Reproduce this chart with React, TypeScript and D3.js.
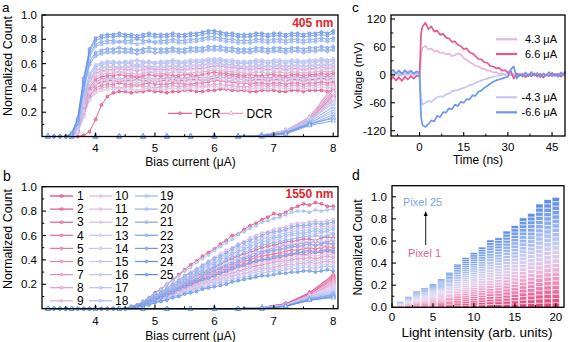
import React from "react";
import * as d3 from "d3";

const FONT = "'Liberation Sans', Arial, Helvetica, sans-serif";

// ---------- panel a / b : bias grid ----------
const biasGrid = [3.2,3.3,3.4,3.5,3.6,3.7,3.8,3.9,4.0,4.1,4.2,4.3,4.4,4.5,4.6,4.7,4.8,4.9,5.0,5.1,5.2,5.3,5.4,5.5,5.6,5.7,5.8,5.9,6.0,6.1,6.2,6.3,6.4,6.5,6.6,6.7,6.8,6.9,7.0,7.1,7.2,7.3,7.4,7.5,7.6,7.7,7.8,7.9,8.0];
const dcrBias = [3.2,3.6,4.0,4.4,4.8,5.2,5.6,6.0,6.4,6.8,7.2,7.6,8.0];
const biasTicks = [4,5,6,7,8];
const biasMinor = [3.5,4.5,5.5,6.5,7.5];
const countTicksPct = [20,40,60,80,100];
const countMinorPct = [10,30,50,70,90];
const pixelNames = ["1","2","3","4","5","6","7","8","9","10","11","12","13","14","15","16","17","18","19","20","21","22","23","24","25"];

// normalized count x100, 405 nm, PCR, pixels 1..25
const pcr405 = [
[0,0,0,0,0,0,1,4,14,26,33,36,37,37,36,37,37,38,37,37,36,37,37,38,38,37,37,38,38,39,39,38,38,38,37,37,38,38,38,37,37,38,38,37,38,38,38,37,38],
[0,0,0,0,0,4,20,36,43,45,46,46,45,46,46,47,46,46,45,46,46,47,46,46,47,47,46,47,48,49,48,48,47,47,46,47,47,46,47,47,46,47,47,46,47,47,48,47,48],
[0,0,0,0,0,5,24,40,47,49,50,50,51,50,50,49,50,51,50,50,51,50,50,51,51,50,51,52,53,52,52,51,51,50,51,50,50,51,51,50,50,51,51,50,51,51,52,51,52],
[0,0,0,0,0,4,18,33,40,42,43,43,44,43,43,42,43,44,43,43,43,44,44,43,43,44,44,45,46,46,45,45,44,44,43,44,44,43,44,44,43,44,44,43,44,44,45,44,45],
[0,0,0,0,0,4,21,38,45,47,48,48,47,48,48,49,48,48,47,48,48,49,48,48,49,49,48,49,50,51,50,50,49,49,48,49,49,48,49,49,48,49,49,48,49,50,50,49,50],
[0,0,0,0,1,6,27,45,52,54,55,55,56,55,55,54,55,56,55,55,55,56,55,55,56,56,56,57,58,58,57,57,56,56,55,56,56,55,56,56,55,56,56,55,56,56,57,56,57],
[0,0,0,0,0,3,17,31,38,40,41,41,40,41,41,42,41,41,40,41,41,42,41,41,42,42,41,42,43,43,42,42,41,41,41,42,42,41,42,42,41,42,42,41,42,42,43,42,43],
[0,0,0,0,0,5,25,42,49,51,52,52,53,52,52,51,52,53,52,52,52,53,53,52,52,53,53,54,55,54,54,53,53,52,52,53,53,52,53,53,52,53,53,52,53,53,54,53,54],
[0,0,0,0,1,6,28,46,54,56,57,57,56,57,57,58,57,57,56,57,57,58,57,57,58,58,59,60,61,60,59,59,58,57,57,58,58,57,58,58,57,58,58,57,58,58,59,58,59],
[0,0,0,0,0,4,20,36,43,44,45,45,46,45,45,44,45,46,45,45,45,46,45,45,46,46,46,47,47,47,46,46,45,45,45,46,46,45,46,46,45,46,46,45,46,46,47,46,47],
[0,0,0,0,1,7,30,48,55,57,58,58,57,58,58,59,58,58,57,58,58,59,58,58,59,59,59,60,60,60,59,59,58,58,58,59,59,58,59,59,58,59,59,58,59,59,60,59,60],
[0,0,0,0,0,3,16,30,36,38,39,39,40,39,39,38,39,40,39,39,39,40,39,39,40,40,40,41,41,41,40,40,39,39,39,40,40,39,40,40,39,40,40,39,40,40,41,40,41],
[0,0,0,0,1,6,26,44,51,53,54,54,53,54,54,55,54,54,53,54,54,55,54,54,55,55,55,56,56,56,55,55,54,54,54,55,55,54,55,55,54,55,55,54,55,55,56,55,56],
[0,0,0,0,1,8,32,51,58,60,61,61,60,61,61,62,61,61,60,61,61,62,61,61,62,62,62,63,63,63,62,62,61,61,61,62,62,61,62,62,61,62,62,61,62,62,63,62,63],
[0,0,0,0,0,4,21,37,44,46,47,47,48,47,47,46,47,48,47,47,47,48,47,47,48,48,48,49,49,49,48,48,47,47,47,48,48,47,48,48,47,48,48,47,48,48,49,48,49],
[0,0,0,0,1,7,29,47,54,56,57,57,58,57,57,56,57,58,57,57,57,58,57,57,58,58,58,59,59,59,58,58,57,57,57,58,58,57,58,58,57,58,58,57,58,58,59,58,59],
[0,0,0,0,1,8,33,52,59,61,62,62,61,62,62,63,62,62,61,62,62,63,62,62,63,63,63,64,64,64,63,63,62,62,62,63,63,62,63,63,62,63,63,62,63,63,64,63,64],
[0,0,0,0,1,8,31,50,57,59,60,60,61,60,60,59,60,61,60,60,60,61,60,60,61,61,61,62,62,62,61,61,60,60,60,61,61,60,61,61,60,61,61,60,61,61,62,61,62],
[0,0,0,0,2,11,38,60,67,69,70,70,69,70,70,71,70,70,69,70,70,71,70,70,71,71,71,72,72,72,71,71,70,70,70,71,71,70,71,71,70,71,71,70,71,71,72,71,72],
[0,0,0,0,2,12,42,66,74,76,77,77,78,77,77,76,77,78,77,77,77,78,77,77,78,78,79,80,80,79,78,78,77,77,77,78,78,77,78,78,77,78,78,77,78,78,79,78,79],
[0,0,0,0,2,10,37,59,66,68,69,69,70,69,69,68,69,70,69,69,69,70,69,69,70,70,70,71,71,71,70,70,69,69,69,70,70,69,70,70,69,70,70,69,70,70,71,70,71],
[0,0,0,0,2,13,44,68,76,78,79,79,78,79,79,80,79,79,78,79,79,80,79,79,80,80,81,82,82,81,80,80,79,79,79,80,80,79,80,80,79,80,80,79,80,80,81,80,81],
[0,0,0,0,2,11,40,62,69,71,72,72,73,72,72,71,72,73,72,72,72,73,72,72,73,73,73,74,74,74,73,73,72,72,72,73,73,72,73,73,72,73,73,72,73,73,74,73,74],
[0,0,0,0,2,14,46,70,79,81,82,82,83,82,82,81,82,83,82,82,82,83,82,82,83,83,84,85,85,84,83,83,82,82,82,83,83,82,83,83,82,83,83,82,83,83,84,83,85],
[0,0,0,0,3,15,48,72,81,83,84,84,85,84,84,83,84,85,84,84,84,85,84,84,85,85,86,87,87,86,85,85,84,84,84,85,85,84,85,85,84,85,85,84,85,85,86,85,87],
];

// normalized count x100, 405 nm, DCR
const dcr405 = [
[0,0,0,0,0,0,0,0,0,1,4,14,34],[0,0,0,0,0,0,0,0,0,1,4,15,36],[0,0,0,0,0,0,0,0,0,1,5,15,38],[0,0,0,0,0,0,0,0,0,1,4,14,33],[0,0,0,0,0,0,0,0,0,1,5,16,40],
[0,0,0,0,0,0,0,0,0,1,4,14,31],[0,0,0,0,0,0,0,0,0,1,4,13,30],[0,0,0,0,0,0,0,0,0,1,5,15,35],[0,0,0,0,0,0,0,0,0,1,5,16,42],[0,0,0,0,0,0,0,0,0,1,5,16,41],
[0,0,0,0,0,0,0,0,0,1,4,15,37],[0,0,0,0,0,0,0,0,0,1,4,14,32],[0,0,0,0,0,0,0,0,0,1,5,15,36],[0,0,0,0,0,0,0,0,0,1,4,13,29],[0,0,0,0,0,0,0,0,0,1,4,14,31],
[0,0,0,0,0,0,0,0,0,1,4,13,28],[0,0,0,0,0,0,0,0,0,1,4,13,27],[0,0,0,0,0,0,0,0,0,1,3,12,25],[0,0,0,0,0,0,0,0,0,1,3,12,24],[0,0,0,0,0,0,0,0,0,1,3,11,22],
[0,0,0,0,0,0,0,0,0,1,3,11,20],[0,0,0,0,0,0,0,0,0,1,3,10,18],[0,0,0,0,0,0,0,0,0,0,3,10,16],[0,0,0,0,0,0,0,0,0,0,3,10,15],[0,0,0,0,0,0,0,0,0,0,2,9,13],
];

// normalized count x100, 1550 nm, PCR
const pcr1550 = [
[0,0,0,0,0,0,0,0,0,0,0,0,0,0,2,3,6,9,13,16,20,24,28,32,36,39,43,46,49,53,56,60,61,65,68,70,73,75,78,77,79,82,84,86,85,87,86,84,84],
[0,0,0,0,0,0,0,0,0,0,0,0,0,0,1,2,4,6,9,11,14,16,19,22,24,27,29,31,34,36,39,41,43,45,46,48,50,51,52,53,55,55,56,57,57,56,58,59,58],
[0,0,0,0,0,0,0,0,0,0,0,0,0,0,1,2,4,6,8,10,12,14,17,19,21,23,25,27,29,31,33,35,37,39,40,42,43,44,45,46,47,48,48,49,50,49,50,51,50],
[0,0,0,0,0,0,0,0,0,0,0,0,0,0,1,2,3,5,7,9,11,13,15,17,19,21,23,25,27,29,30,32,34,35,37,38,40,40,41,42,43,44,45,44,45,46,46,47,46],
[0,0,0,0,0,0,0,0,0,0,0,0,0,0,1,2,4,6,8,10,13,15,18,21,23,25,28,30,32,34,36,39,41,42,44,46,47,48,50,51,52,52,53,54,54,55,54,55,56],
[0,0,0,0,0,0,0,0,0,0,0,0,0,0,1,2,3,5,6,8,10,12,14,16,18,19,21,23,24,26,28,29,31,32,34,35,36,37,38,39,39,40,41,41,42,41,42,43,42],
[0,0,0,0,0,0,0,0,0,0,0,0,0,0,1,2,3,5,7,9,12,13,16,18,20,22,24,26,28,30,32,34,36,37,38,40,41,42,43,44,46,45,46,47,48,47,48,49,48],
[0,0,0,0,0,0,0,0,0,0,0,0,0,0,1,2,3,4,6,7,9,11,13,14,16,17,19,21,22,24,25,27,28,29,30,32,33,33,34,35,36,36,37,37,38,37,38,39,38],
[0,0,0,0,0,0,0,0,0,0,0,0,0,0,1,2,4,6,8,10,12,15,17,20,22,24,26,28,30,32,34,36,38,40,42,43,45,46,47,48,49,50,51,50,51,52,51,52,53],
[0,0,0,0,0,0,0,0,0,0,0,0,0,0,1,3,5,8,11,14,17,20,24,27,30,33,36,39,42,45,48,50,53,55,58,60,62,63,65,66,67,69,70,70,71,72,71,72,73],
[0,0,0,0,0,0,0,0,0,0,0,0,0,0,1,2,3,5,7,8,11,12,15,17,18,20,22,24,26,27,29,31,33,34,35,37,38,39,40,40,41,42,43,43,44,43,44,45,44],
[0,0,0,0,0,0,0,0,0,0,0,0,0,0,1,3,5,7,10,13,16,19,22,26,29,31,34,37,39,42,45,48,50,52,54,56,58,60,61,63,64,65,66,66,67,68,67,68,69],
[0,0,0,0,0,0,0,0,0,0,0,0,0,0,1,1,3,4,5,7,9,10,12,14,15,17,18,19,21,22,24,25,27,28,29,30,31,32,32,33,34,35,35,36,36,35,36,37,36],
[0,0,0,0,0,0,0,0,0,0,0,0,0,0,1,2,4,7,9,12,15,17,20,24,26,29,31,33,36,38,41,43,46,48,50,51,53,55,56,57,58,60,60,61,61,62,62,63,62],
[0,0,0,0,0,0,0,0,0,0,0,0,0,0,1,2,3,4,6,8,10,11,13,15,17,18,20,22,23,25,26,28,30,31,32,33,34,35,36,37,38,38,39,39,40,39,40,41,40],
[0,0,0,0,0,0,0,0,0,0,0,0,0,0,1,2,4,6,8,11,13,16,18,21,24,26,28,30,32,35,37,39,41,43,45,46,48,49,50,52,53,53,54,55,55,56,55,56,57],
[0,0,0,0,0,0,0,0,0,0,0,0,0,0,1,3,5,7,10,13,16,18,22,25,28,30,33,36,38,41,44,46,49,51,53,55,57,58,59,61,62,63,64,64,65,66,65,66,67],
[0,0,0,0,0,0,0,0,0,0,0,0,0,0,1,1,2,4,5,6,8,10,11,13,14,16,17,18,20,21,22,24,25,26,27,28,29,30,31,31,32,33,33,34,34,33,34,35,34],
[0,0,0,0,0,0,0,0,0,0,0,0,0,0,2,3,6,9,12,16,20,23,27,31,34,38,41,44,48,51,54,57,61,63,66,68,71,72,74,75,77,79,80,80,79,81,80,81,82],
[0,0,0,0,0,0,0,0,0,0,0,0,0,0,1,3,4,7,10,12,15,18,21,24,27,29,32,35,37,40,42,45,47,49,51,53,55,56,58,59,60,61,62,62,63,64,63,64,65],
[0,0,0,0,0,0,0,0,0,0,0,0,0,0,1,2,4,7,9,11,14,17,20,23,25,28,30,32,35,37,40,42,44,46,48,50,52,53,54,55,56,57,58,59,59,60,59,60,61],
[0,0,0,0,0,0,0,0,0,0,0,0,0,0,1,3,5,8,11,13,17,20,23,27,29,32,35,38,41,43,46,49,52,54,56,58,60,62,63,64,65,67,68,68,69,70,69,70,71],
[0,0,0,0,0,0,0,0,0,0,0,0,0,0,1,2,4,6,8,10,13,15,17,20,22,24,27,29,31,33,35,37,39,41,42,44,46,47,48,49,50,51,51,52,53,52,53,54,53],
[0,0,0,0,0,0,0,0,0,0,0,0,0,0,1,2,3,5,7,9,11,13,16,18,20,22,24,25,27,29,31,33,35,36,38,39,40,41,42,43,44,45,46,46,47,46,47,48,47],
[0,0,0,0,0,0,0,0,0,0,0,0,0,0,1,1,2,3,5,6,7,9,10,12,13,14,16,17,18,19,20,22,23,24,25,26,27,27,28,29,29,30,30,31,31,30,31,32,31],
];

const dcr1550 = [
[0,0,0,0,0,0,0,0,0,1,4,13,28],[0,0,0,0,0,0,0,0,0,1,4,13,27],[0,0,0,0,0,0,0,0,0,1,4,12,26],[0,0,0,0,0,0,0,0,0,1,4,12,25],[0,0,0,0,0,0,0,0,0,1,4,12,24],
[0,0,0,0,0,0,0,0,0,1,3,12,23],[0,0,0,0,0,0,0,0,0,1,3,11,22],[0,0,0,0,0,0,0,0,0,1,3,11,21],[0,0,0,0,0,0,0,0,0,1,3,11,20],[0,0,0,0,0,0,0,0,0,1,3,11,19],
[0,0,0,0,0,0,0,0,0,1,3,10,18],[0,0,0,0,0,0,0,0,0,1,3,10,17],[0,0,0,0,0,0,0,0,0,1,3,10,16],[0,0,0,0,0,0,0,0,0,1,3,10,15],[0,0,0,0,0,0,0,0,0,1,3,9,15],
[0,0,0,0,0,0,0,0,0,1,3,9,14],[0,0,0,0,0,0,0,0,0,1,2,9,13],[0,0,0,0,0,0,0,0,0,1,2,9,13],[0,0,0,0,0,0,0,0,0,1,2,8,12],[0,0,0,0,0,0,0,0,0,1,2,8,12],
[0,0,0,0,0,0,0,0,0,0,2,8,11],[0,0,0,0,0,0,0,0,0,0,2,8,11],[0,0,0,0,0,0,0,0,0,0,2,7,10],[0,0,0,0,0,0,0,0,0,0,2,7,10],[0,0,0,0,0,0,0,0,0,0,2,7,9],
];

// ---------- panel c : pulses ----------
const timeNs = [-9.7,-9,-8,-7,-6,-5,-4,-3,-2,-1,0,0.5,1,2,3,4,5,6,7,8,9,10,11,12,13,14,15,16,17,18,19,20,21,22,23,24,25,26,27,28,29,30,31,32,33,34,35,36,37,38,39,40,41,42,43,44,45,46,47,48,49,49.4];
const v43 = [2,-4,3,-2,5,-2,4,-1,3,0,2,45,58,62,55,57,50,52,47,48,44,46,40,42,46,44,36,32,27,24,19,18,14,13,9,9,5,6,2,3,0,2,-1,1,-2,2,-1,1,-2,2,0,-1,2,-2,1,-1,2,0,-2,1,2,0];
const v66 = [-10,-4,-12,-5,-13,-4,-10,-3,-8,-2,-4,88,104,112,98,104,93,95,86,88,80,78,71,72,64,62,55,57,48,46,40,34,33,27,26,19,18,14,15,9,10,5,8,-8,3,-2,2,-5,1,-3,3,-4,2,-6,0,-3,4,-2,2,-4,3,0];
const vm43 = [-1,5,0,4,-2,6,0,5,-1,3,1,-52,-64,-60,-56,-58,-52,-48,-46,-47,-42,-40,-35,-34,-33,-30,-28,-26,-22,-21,-17,-15,-12,-10,-8,-6,-4,-3,-1,0,1,-1,2,0,-2,1,0,-2,2,-1,1,0,-2,2,-1,1,-1,2,0,-2,1,0];
const vm66 = [6,11,3,9,2,10,4,9,3,7,5,-90,-108,-112,-106,-98,-100,-88,-91,-80,-81,-72,-74,-64,-67,-58,-60,-52,-53,-44,-45,-36,-34,-28,-24,-19,-15,-12,-10,-8,-6,-4,12,18,-8,2,-4,5,-3,6,-2,4,-5,3,-1,6,-3,2,-4,5,0,8];
const timeTicks = [0,15,30,45];
const timeMinor = [-7.5,7.5,22.5,37.5];
const voltTicks = [-120,-60,0,60,120];
const voltMinor = [-90,-30,30,90];
const pulseNames = ["4.3 μA","6.6 μA","-4.3 μA","-6.6 μA"];

// ---------- panel d : linearity ----------
const intensity = [1,2,3,4,5,6,7,8,9,10,11,12,13,14,15,16,17,18,19,20];
const countD = [0.05,0.095,0.145,0.175,0.21,0.255,0.315,0.39,0.45,0.495,0.545,0.61,0.63,0.69,0.74,0.81,0.85,0.935,0.975,0.995];
const intTicks = [0,5,10,15,20];
const intMinor = [2.5,7.5,12.5,17.5];
const countTicksD = [0,0.2,0.4,0.6,0.8,1.0];
const countMinorD = [0.1,0.3,0.5,0.7,0.9];

// ---------- styles ----------
const pixelInterp = d3.interpolateRgbBasis(["#db4175","#e27fb0","#e0bce7","#c3cbf4","#8fb0ee","#5b8ce6"]);
const colorOf = (i: number) => pixelInterp(i / 24);
const lighten = (c: string, t: number) => d3.interpolateRgb(c, "#ffffff")(t);
const segInterp = d3.interpolateRgbBasis(["#e8417b","#ef86b6","#e9cff0","#c1ccf4","#8aadea","#5f8ee4"]);
const traceColors = ["#e6b4de","#e8588b","#c3c6f2","#6a98ec"];

type Sc = d3.ScaleLinear<number, number>;

function Box(props: {
  x: Sc; y: Sc; xMajor: number[]; xMinor: number[]; yMajor: number[]; yMinor: number[];
  xFmt: (v: number) => string; yFmt: (v: number) => string; xDy: number; fs: number;
}) {
  const { x, y, xMajor, xMinor, yMajor, yMinor, xFmt, yFmt, xDy, fs } = props;
  const [x0, x1] = x.range();
  const [yb, yt] = y.range();
  return (
    <g>
      {xMajor.map((v) => <line key={"xm" + v} x1={x(v)} x2={x(v)} y1={yb} y2={yb - 4} stroke="#000" strokeWidth={1.1} />)}
      {xMinor.map((v) => <line key={"xn" + v} x1={x(v)} x2={x(v)} y1={yb} y2={yb - 2.3} stroke="#000" strokeWidth={1} />)}
      {yMajor.map((v) => <line key={"ym" + v} x1={x0} x2={x0 + 4} y1={y(v)} y2={y(v)} stroke="#000" strokeWidth={1.1} />)}
      {yMinor.map((v) => <line key={"yn" + v} x1={x0} x2={x0 + 2.3} y1={y(v)} y2={y(v)} stroke="#000" strokeWidth={1} />)}
      <rect x={x0} y={yt} width={x1 - x0} height={yb - yt} fill="none" stroke="#000" strokeWidth={1.3} />
      {xMajor.map((v) => (
        <text key={"xt" + v} x={x(v)} y={yb + xDy} textAnchor="middle" fontSize={fs}>{xFmt(v)}</text>
      ))}
      {yMajor.map((v) => (
        <text key={"yt" + v} x={x0 - 5} y={y(v) + 4} textAnchor="end" fontSize={fs}>{yFmt(v)}</text>
      ))}
    </g>
  );
}

const triPath = d3.symbol().type(d3.symbolTriangle).size(9)() as string;

function PcrSeries({ data, x, y, k }: { data: number[][]; x: Sc; y: Sc; k: string }) {
  const line = d3.line<number>().x((_, j) => x(biasGrid[j])).y((v) => y(v));
  return (
    <g>
      {data.map((vals, i) => {
        const c = colorOf(i);
        return (
          <g key={k + i}>
            <path d={line(vals) as string} fill="none" stroke={c} strokeWidth={0.9} strokeOpacity={0.9} />
            {vals.map((v, j) => (
              <circle key={j} cx={x(biasGrid[j])} cy={y(v)} r={1.5} fill={lighten(c, 0.35)} stroke={c} strokeWidth={0.6} />
            ))}
          </g>
        );
      })}
    </g>
  );
}

function DcrSeries({ data, x, y, k }: { data: number[][]; x: Sc; y: Sc; k: string }) {
  const line = d3.line<number>().x((_, j) => x(dcrBias[j])).y((v) => y(v));
  return (
    <g>
      {data.map((vals, i) => {
        const c = colorOf(i);
        return (
          <g key={k + i}>
            <path d={line(vals) as string} fill="none" stroke={c} strokeWidth={0.9} strokeOpacity={0.85} />
            {vals.map((v, j) => (
              <path key={j} d={triPath} transform={`translate(${x(dcrBias[j])},${y(v)})`} fill="#fff" fillOpacity={0.6} stroke={c} strokeWidth={0.6} />
            ))}
          </g>
        );
      })}
    </g>
  );
}

export default function App() {
  const xA = d3.scaleLinear().domain([3.1, 8.08]).range([42, 338]);
  const yA = d3.scaleLinear().domain([0, 100]).range([136.5, 15]);
  const yB = d3.scaleLinear().domain([0, 100]).range([308.7, 186.7]);
  const xC = d3.scaleLinear().domain([-9.7, 49.4]).range([391, 565]);
  const yC = d3.scaleLinear().domain([-131.4, 128.6]).range([136, 15]);
  const xD = d3.scaleLinear().domain([0, 21]).range([392, 564]);
  const yD = d3.scaleLinear().domain([0, 1.1]).range([307.3, 185.7]);

  const pctFmt = (v: number) => (v / 100).toFixed(1);
  const intFmt = (v: number) => String(v);

  const traceLine = d3.line<number>().x((_, j) => xC(timeNs[j])).y((v) => yC(v));
  const traces = [v43, v66, vm43, vm66];
  const traceOrder = [0, 2, 1, 3];

  const barW = xD(0.82) - xD(0);

  const legendCols = [50, 89, 135];
  const legendText = [77, 115, 160];

  return (
    <svg width={568} height={342} viewBox="0 0 568 342"
      style={{ position: "absolute", left: 0, top: 0, background: "#fff", fontFamily: FONT }}>
      <rect x={0} y={0} width={568} height={342} fill="#fff" />

      {/* ---------------- panel a ---------------- */}
      <PcrSeries data={pcr405} x={xA} y={yA} k="pa" />
      <DcrSeries data={dcr405} x={xA} y={yA} k="da" />
      <Box x={xA} y={yA} xMajor={biasTicks} xMinor={biasMinor} yMajor={countTicksPct} yMinor={countMinorPct}
        xFmt={intFmt} yFmt={pctFmt} xDy={15} fs={11.5} />
      <text x={333.5} y={26.5} textAnchor="end" fontSize={12} fontWeight="bold" fill="#e5232b">405 nm</text>
      <g>
        <line x1={168} x2={192} y1={113.3} y2={113.3} stroke="#df4f7f" strokeWidth={1.1} />
        <circle cx={180} cy={113.3} r={1.5} fill={lighten("#df4f7f", 0.35)} stroke="#df4f7f" strokeWidth={0.6} />
        <text x={195} y={117.6} fontSize={12}>PCR</text>
        <line x1={219} x2={243} y1={113.3} y2={113.3} stroke="#e68bb4" strokeWidth={1.1} />
        <path d={triPath} transform="translate(231,113.3)" fill="#fff" stroke="#e68bb4" strokeWidth={0.6} />
        <text x={246.5} y={117.6} fontSize={12}>DCR</text>
      </g>
      <text x={11.5} y={66} transform="rotate(-90 11.5 66)" textAnchor="middle" fontSize={12.5}>Normalized Count</text>
      <text x={190.5} y={165.5} textAnchor="middle" fontSize={12}>Bias current (μA)</text>
      <text x={2} y={12} fontSize={13.5}>a</text>

      {/* ---------------- panel b ---------------- */}
      <PcrSeries data={pcr1550} x={xA} y={yB} k="pb" />
      <DcrSeries data={dcr1550} x={xA} y={yB} k="db" />
      <Box x={xA} y={yB} xMajor={biasTicks} xMinor={biasMinor} yMajor={countTicksPct} yMinor={countMinorPct}
        xFmt={intFmt} yFmt={pctFmt} xDy={16} fs={11.5} />
      <text x={333.5} y={198.3} textAnchor="end" fontSize={12} fontWeight="bold" fill="#e5232b">1550 nm</text>
      {pixelNames.map((nm, i) => {
        const col = i < 9 ? 0 : i < 18 ? 1 : 2;
        const row = i < 9 ? i : i < 18 ? i - 9 : i - 18;
        const yy = 196 + row * 13.1;
        const c = colorOf(i);
        const lx = legendCols[col];
        return (
          <g key={"lg" + i}>
            <line x1={lx} x2={lx + 23} y1={yy} y2={yy} stroke={c} strokeWidth={1.2} />
            <circle cx={lx + 11.5} cy={yy} r={1.5} fill={lighten(c, 0.35)} stroke={c} strokeWidth={0.6} />
            <text x={legendText[col]} y={yy + 4.2} fontSize={12}>{nm}</text>
          </g>
        );
      })}
      <text x={11.5} y={239} transform="rotate(-90 11.5 239)" textAnchor="middle" fontSize={12.5}>Normalized Count</text>
      <text x={190.5} y={339.5} textAnchor="middle" fontSize={12}>Bias current (μA)</text>
      <text x={3} y={181} fontSize={14}>b</text>

      {/* ---------------- panel c ---------------- */}
      {traceOrder.map((ti) => (
        <path key={"tr" + ti} d={traceLine(traces[ti]) as string} fill="none" stroke={traceColors[ti]}
          strokeWidth={1.7} strokeLinejoin="round" />
      ))}
      <Box x={xC} y={yC} xMajor={timeTicks} xMinor={timeMinor} yMajor={voltTicks} yMinor={voltMinor}
        xFmt={intFmt} yFmt={intFmt} xDy={15} fs={11.5} />
      {[39.3, 54, 97.3, 112.3].map((yy, i) => (
        <g key={"pl" + i}>
          <line x1={496} x2={517} y1={yy} y2={yy} stroke={traceColors[i]} strokeWidth={2.2} />
          <text x={i < 2 ? 525 : 521.5} y={yy + 4} fontSize={11}>{pulseNames[i]}</text>
        </g>
      ))}
      <text x={361.5} y={75.5} transform="rotate(-90 361.5 75.5)" textAnchor="middle" fontSize={11.5}>Voltage (mV)</text>
      <text x={478} y={163.5} textAnchor="middle" fontSize={12}>Time (ns)</text>
      <text x={352} y={12} fontSize={13.5}>c</text>

      {/* ---------------- panel d ---------------- */}
      {intensity.map((xi, i) => {
        const h = countD[i];
        const x0 = xD(xi) - barW / 2;
        return (
          <g key={"bar" + i}>
            {d3.range(25).map((k) => {
              const yTop = yD(((k + 1) * h) / 25);
              const yBot = yD((k * h) / 25);
              return <rect key={k} x={x0} y={yTop} width={barW} height={yBot - yTop} fill={segInterp(k / 24)} />;
            })}
            {d3.range(1, 26).map((k) => {
              const yy = yD((k * h) / 25);
              const segPx = yD(0) - yD(h / 25);
              return <line key={"s" + k} x1={x0} x2={x0 + barW} y1={yy} y2={yy} stroke="#fff"
                strokeWidth={Math.min(0.8, segPx * 0.3)} strokeOpacity={0.9} />;
            })}
          </g>
        );
      })}
      <Box x={xD} y={yD} xMajor={intTicks} xMinor={intMinor} yMajor={countTicksD} yMinor={countMinorD}
        xFmt={intFmt} yFmt={(v) => v.toFixed(1)} xDy={13.5} fs={11.5} />
      <text x={403} y={205.5} fontSize={11} fill="#7da2e6">Pixel 25</text>
      <text x={408} y={256.5} fontSize={11} fill="#e2629a">Pixel 1</text>
      <line x1={425.7} x2={425.7} y1={245} y2={215} stroke="#000" strokeWidth={0.9} />
      <path d="M425.7,211 L423.7,216 L427.7,216 Z" fill="#000" />
      <text x={362} y={247.5} transform="rotate(-90 362 247.5)" textAnchor="middle" fontSize={12}>Normalized Count</text>
      <text x={477} y={337} textAnchor="middle" fontSize={13.5}>Light intensity (arb. units)</text>
      <text x={352} y={180} fontSize={14}>d</text>
    </svg>
  );
}
